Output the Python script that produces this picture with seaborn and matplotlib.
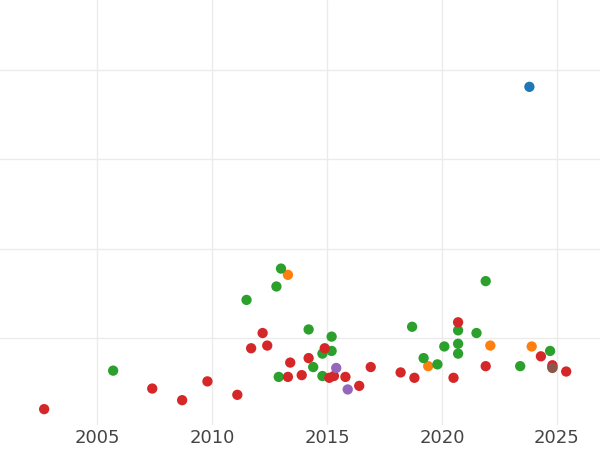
import matplotlib
matplotlib.use("Agg")
import matplotlib.pyplot as plt
import seaborn as sns
import pandas as pd

red_x = [2002.7,2007.4,2008.7,2009.8,2011.1,2011.7,2012.2,2012.4,2013.3,2013.4,2013.9,2014.2,2014.9,2015.1,2015.3,2015.8,2016.4,2016.9,2018.2,2018.8,2020.5,2020.7,2021.9,2024.3,2024.8,2025.4]
red_y = [0.21,0.44,0.31,0.52,0.37,0.89,1.06,0.92,0.57,0.73,0.59,0.78,0.89,0.56,0.58,0.57,0.47,0.68,0.62,0.56,0.56,1.18,0.69,0.80,0.70,0.63]
green_x = [2005.7,2011.5,2012.8,2013.0,2012.9,2014.2,2014.4,2014.8,2014.8,2015.2,2015.2,2018.7,2019.2,2019.8,2020.1,2020.7,2020.7,2020.7,2021.5,2021.9,2023.4,2024.7,2024.8]
green_y = [0.64,1.43,1.58,1.78,0.57,1.10,0.68,0.83,0.58,1.02,0.86,1.13,0.78,0.71,0.91,1.09,0.94,0.83,1.06,1.64,0.69,0.86,0.68]
orange_x = [2013.3,2019.4,2022.1,2023.9]
orange_y = [1.71,0.69,0.92,0.91]
purple_x = [2015.4,2015.9]
purple_y = [0.67,0.43]
brown_x = [2024.8]
brown_y = [0.67]
blue_x = [2023.8]
blue_y = [3.81]

groups = [("a",blue_x,blue_y),("b",orange_x,orange_y),("c",green_x,green_y),("d",red_x,red_y),("e",purple_x,purple_y),("f",brown_x,brown_y)]
rows = []
for g,xs,ys in groups:
    for x,y in zip(xs,ys):
        rows.append({"year":x,"value":y,"group":g})
df = pd.DataFrame(rows)

sns.set_theme(style="whitegrid", rc={"grid.color":"#ebebeb"})
fig = plt.figure(figsize=(6,4.5), dpi=100)
ax = fig.add_axes([0,0.055,1.0,0.945])
sns.scatterplot(data=df, x="year", y="value", hue="group", palette="tab10", s=55, linewidth=0, ax=ax, legend=False)
ax.set_xlim(2000.78, 2026.87)
ax.set_ylim(0.03, 4.78)
ax.set_yticks([1,2,3,4])
ax.set_yticklabels([])
ax.set_xticks([2005,2010,2015,2020,2025])
ax.tick_params(axis="x", labelsize=13, colors="#444444", pad=-3)
ax.tick_params(axis="y", length=0)
ax.set_xlabel(""); ax.set_ylabel("")
for s in ax.spines.values():
    s.set_visible(False)
fig.savefig("out.png")
